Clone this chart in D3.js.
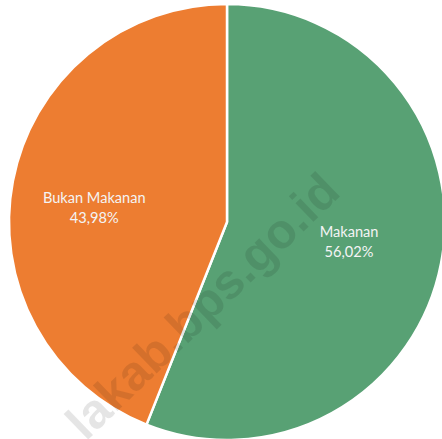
<!DOCTYPE html>
<html>
<head>
<meta charset="utf-8">
<script src="https://cdn.jsdelivr.net/npm/d3@7"></script>
<style>
  html, body { margin: 0; padding: 0; background: #fff; }
  svg { display: block; }
</style>
</head>
<body>
<svg id="chart" width="442" height="439"></svg>
<script>
const categories = ["Makanan", "Bukan Makanan"];
const values = [56.02, 43.98];
const valueLabels = ["56,02%", "43,98%"];
const colors = ["#58A174", "#ED7D31"];
const watermark = "lakab.bps.go.id";

const svg = d3.select("#chart");
const cx = 227, cy = 222, r = 218;

const data = categories.map((c, i) => ({ cat: c, value: values[i], label: valueLabels[i], color: colors[i] }));

const pie = d3.pie().value(d => d.value).sort(null);
const arc = d3.arc().innerRadius(0).outerRadius(r);
const g = svg.append("g").attr("transform", `translate(${cx},${cy})`);

const arcs = pie(data);
g.selectAll("path").data(arcs).enter().append("path")
  .attr("d", arc)
  .attr("fill", d => d.data.color)
  .attr("stroke", "#fff")
  .attr("stroke-width", 2.5)
  .attr("stroke-linejoin", "round");

// label placement (Excel "best fit"-like)
const labelRadius = [0.57, 0.62];
const labelShiftY = [-4, 10];
const lbl = g.selectAll("text.lbl").data(arcs).enter().append("text")
  .attr("class", "lbl")
  .attr("transform", (d, i) => {
    const a = d3.arc().innerRadius(r * labelRadius[i]).outerRadius(r * labelRadius[i]);
    const [x, y] = a.centroid(d);
    return `translate(${x},${y + labelShiftY[i]})`;
  })
  .attr("text-anchor", "middle")
  .attr("font-family", "Lato, 'Open Sans', sans-serif")
  .attr("font-size", 14.6)
  .attr("fill", "#f4f4f4");
lbl.append("tspan").attr("x", 0).attr("y", -4).text(d => d.data.cat);
lbl.append("tspan").attr("x", 0).attr("y", 16).text(d => d.data.label);

svg.append("text")
  .attr("transform", "translate(214,318) rotate(-44)")
  .attr("text-anchor", "middle")
  .attr("font-family", "'Liberation Sans', Arial, sans-serif")
  .attr("font-weight", "bold")
  .attr("font-size", 49)
  .attr("fill", "#000")
  .attr("fill-opacity", 0.1)
  .text(watermark);
</script>
</body>
</html>
